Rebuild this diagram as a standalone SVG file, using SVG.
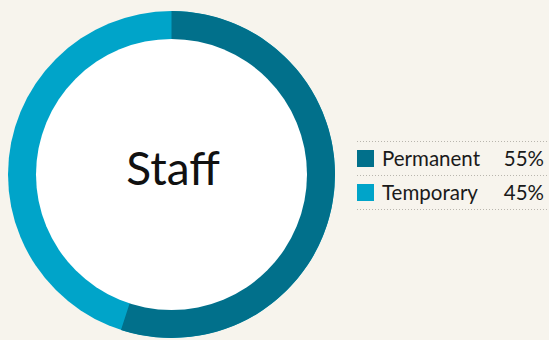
<svg xmlns="http://www.w3.org/2000/svg" width="549" height="340" viewBox="0 0 549 340">
<style>
.lbl{font-family:Lato,"Liberation Sans",sans-serif;font-size:20.5px;fill:#1a1a1a}
.dot{stroke:#b9b6ae;stroke-width:1;stroke-dasharray:1 2;fill:none}
</style>
<rect width="549" height="340" fill="#f7f4ed"/>
<g id="donut">
<circle cx="171.5" cy="174.5" r="163.5" fill="#00a4c9"/>
<path d="M171.5 11 A163.5 163.5 0 1 1 120.98 330 L171.5 174.5 Z" fill="#01708b"/>
<circle cx="171.5" cy="174.5" r="135.5" fill="#ffffff"/>
</g>
<g id="title">
<text x="173" y="185" text-anchor="middle" font-family="Lato,'Liberation Sans',sans-serif" font-size="46" fill="#111">Staff</text>
</g>
<g id="legend">
<line class="dot" x1="357" y1="141.5" x2="549" y2="141.5"/>
<line class="dot" x1="357" y1="175.5" x2="549" y2="175.5"/>
<line class="dot" x1="357" y1="209.5" x2="549" y2="209.5"/>
<g id="permanent">
<rect x="357" y="150" width="17" height="17" fill="#01708b"/>
<text class="lbl" x="382" y="166">Permanent</text>
<text class="lbl" x="544" y="166" text-anchor="end">55%</text>
</g>
<g id="temporary">
<rect x="357" y="184" width="17" height="17" fill="#00a4c9"/>
<text class="lbl" x="382" y="200">Temporary</text>
<text class="lbl" x="544" y="200" text-anchor="end">45%</text>
</g>
</g>
</svg>
